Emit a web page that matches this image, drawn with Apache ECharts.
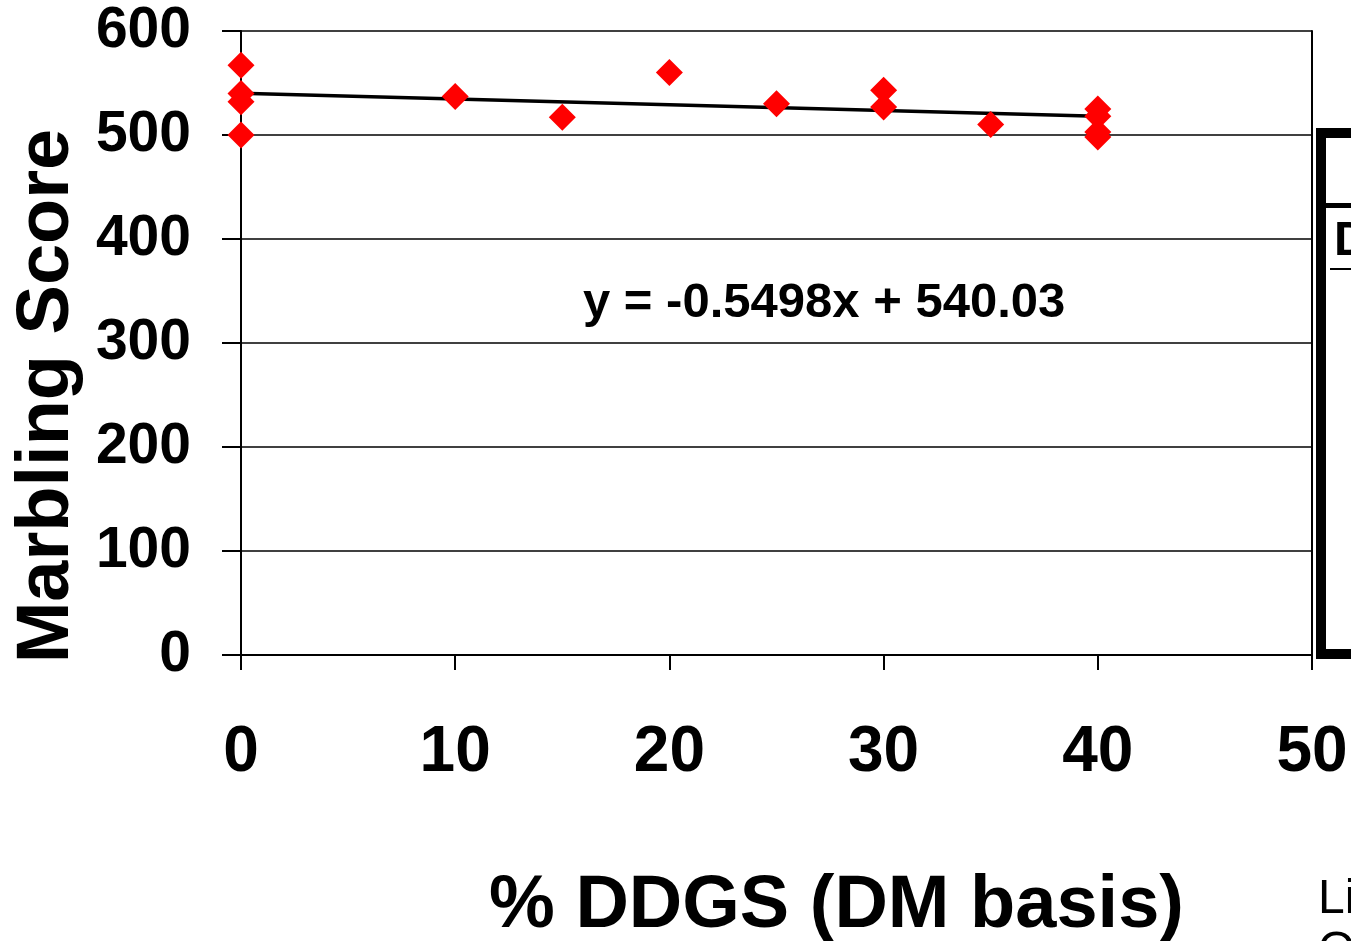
<!DOCTYPE html>
<html>
<head>
<meta charset="utf-8">
<script src="https://cdn.jsdelivr.net/npm/echarts@6/dist/echarts.min.js"></script>
<style>
html,body{margin:0;padding:0;background:#fff;}
#c{width:1351px;height:941px;}
</style>
</head>
<body>
<div id="c"></div>
<script>
// Data
var ddgsPct = [0, 0, 0, 0, 10, 15, 20, 25, 30, 30, 35, 40, 40, 40, 40];
var marbling = [567, 540, 532, 500, 537, 517, 560, 530, 543, 527, 510, 525, 518, 503, 498];
var trendX = [0, 40];
var trendY = [540.03, 518.04];
var yTicks = [0, 100, 200, 300, 400, 500, 600];
var xTicks = [0, 10, 20, 30, 40, 50];
var equationText = 'y = -0.5498x + 540.03';
var xTitle = '% DDGS (DM basis)';
var yTitle = 'Marbling Score';

var chart = echarts.init(document.getElementById('c'), null, {renderer: 'canvas'});
var font = 'Liberation Sans, Arial, sans-serif';
var scatterData = ddgsPct.map(function (x, i) { return [x, marbling[i]]; });
var trendData = trendX.map(function (x, i) { return [x, trendY[i]]; });

chart.setOption({
  backgroundColor: '#ffffff',
  animation: false,
  grid: {left: 241, right: 39, top: 31, bottom: 286, containLabel: false, outerBoundsMode: 'none'},
  xAxis: {
    type: 'value', min: 0, max: 50, interval: 10,
    axisLine: {show: true, onZero: false, lineStyle: {color: '#000', width: 2}},
    axisTick: {show: true, length: 15, lineStyle: {color: '#000', width: 2}},
    splitLine: {show: false},
    axisLabel: {margin: 66, fontSize: 64, fontWeight: 'bold', fontFamily: font, color: '#000', hideOverlap: false},
    name: xTitle, nameLocation: 'middle', nameGap: 215,
    nameTextStyle: {fontSize: 74, fontWeight: 'bold', fontFamily: font, color: '#000', padding: [0, 0, 0, 120]}
  },
  yAxis: [{
    type: 'value', min: 0, max: 600, interval: 100,
    axisLine: {show: true, onZero: false, lineStyle: {color: '#000', width: 2}},
    axisTick: {show: true, length: 19, lineStyle: {color: '#000', width: 2}},
    splitLine: {show: true, lineStyle: {color: '#000', width: 1.5}},
    axisLabel: {margin: 50, fontSize: 57, fontWeight: 'bold', fontFamily: font, color: '#000'},
    name: yTitle, nameLocation: 'middle', nameGap: 156, nameRotate: 90,
    nameTextStyle: {fontSize: 74, fontWeight: 'bold', fontFamily: font, color: '#000', padding: [0, 106, 0, 0]}
  }, {
    type: 'value', min: 0, max: 600, interval: 100, position: 'right',
    axisLine: {show: true, onZero: false, lineStyle: {color: '#000', width: 2}},
    axisTick: {show: false}, axisLabel: {show: false}, splitLine: {show: false}
  }],
  series: [{
    type: 'line', data: trendData, symbol: 'none',
    lineStyle: {color: '#000', width: 3.5}, z: 3
  }, {
    type: 'scatter', data: scatterData, symbol: 'diamond', symbolSize: 27,
    itemStyle: {color: '#ff0000', opacity: 1}, z: 4
  }],
  graphic: [
    {type: 'text', left: 583, top: 279, style: {text: equationText, font: 'bold 49px ' + font, fill: '#000'}},
    {type: 'rect', shape: {x: 1321, y: 133, width: 120, height: 521}, style: {fill: 'none', stroke: '#000', lineWidth: 10}},
    {type: 'rect', shape: {x: 1326, y: 203, width: 40, height: 5}, style: {fill: '#000'}},
    {type: 'rect', shape: {x: 1330, y: 268, width: 30, height: 2}, style: {fill: '#000'}},
    {type: 'text', left: 1334, top: 218, style: {text: 'D', font: 'bold 48px ' + font, fill: '#000'}},
    {type: 'text', left: 1318, top: 874, style: {text: 'Li\nO', font: '48px ' + font, lineHeight: 52, fill: '#000'}}
  ]
});
</script>
</body>
</html>
